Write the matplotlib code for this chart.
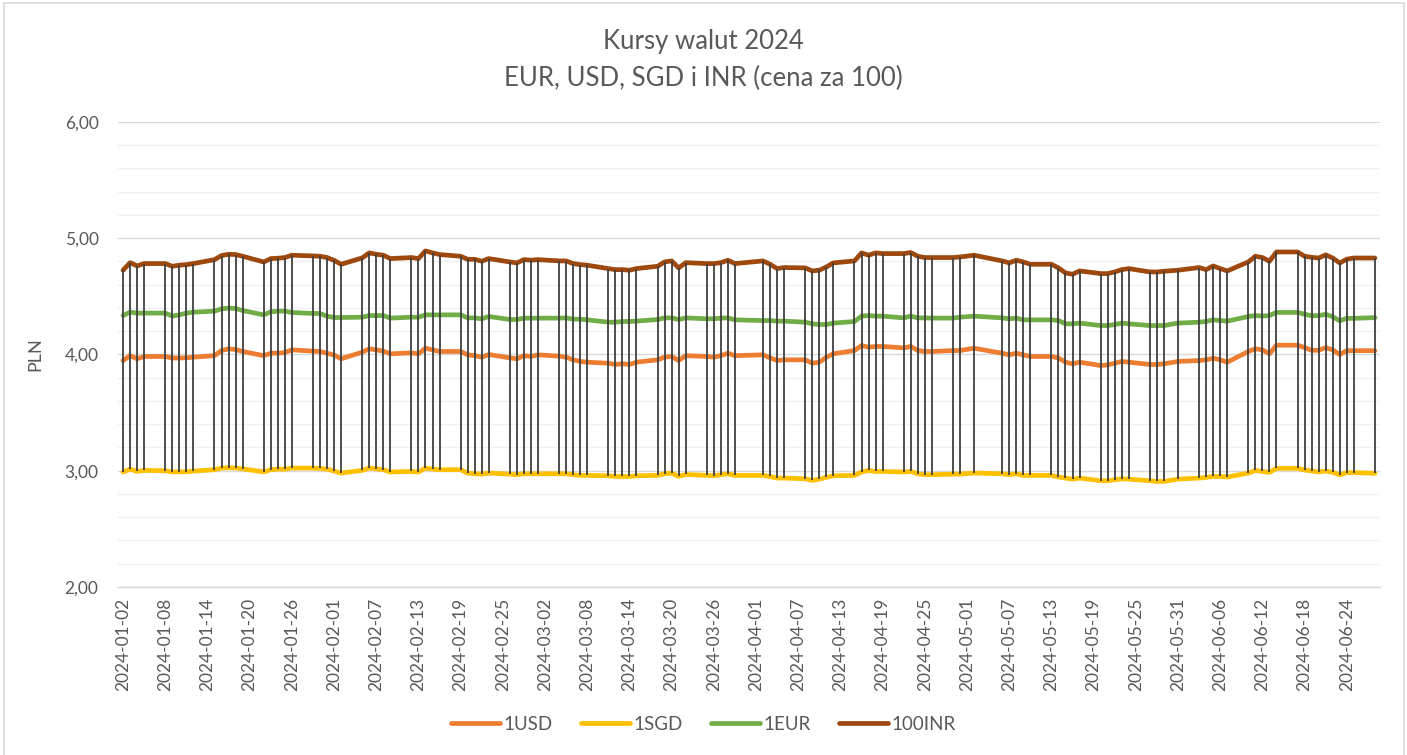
import numpy as np
import pandas as pd
import matplotlib
matplotlib.use("Agg")
import matplotlib.pyplot as plt
import matplotlib.dates as mdates
from matplotlib.ticker import MultipleLocator, FuncFormatter
from matplotlib.lines import Line2D

plt.rcParams['font.family'] = ['Lato', 'DejaVu Sans']

# ---------------- data ----------------
dates = [
    # Jan
    "2024-01-02", "2024-01-03", "2024-01-04", "2024-01-05", "2024-01-08", "2024-01-09", "2024-01-10",
    "2024-01-11", "2024-01-12", "2024-01-15", "2024-01-16", "2024-01-17", "2024-01-18", "2024-01-19",
    "2024-01-22", "2024-01-23", "2024-01-24", "2024-01-25", "2024-01-26", "2024-01-29", "2024-01-30",
    "2024-01-31",
    # Feb
    "2024-02-01", "2024-02-02", "2024-02-05", "2024-02-06", "2024-02-07", "2024-02-08", "2024-02-09",
    "2024-02-12", "2024-02-13", "2024-02-14", "2024-02-15", "2024-02-16", "2024-02-19", "2024-02-20",
    "2024-02-21", "2024-02-22", "2024-02-23", "2024-02-26", "2024-02-27", "2024-02-28", "2024-02-29",
    # Mar
    "2024-03-01", "2024-03-04", "2024-03-05", "2024-03-06", "2024-03-07", "2024-03-08", "2024-03-11",
    "2024-03-12", "2024-03-13", "2024-03-14", "2024-03-15", "2024-03-18", "2024-03-19", "2024-03-20",
    "2024-03-21", "2024-03-22", "2024-03-25", "2024-03-26", "2024-03-27", "2024-03-28", "2024-03-29",
    # Apr
    "2024-04-02", "2024-04-03", "2024-04-04", "2024-04-05", "2024-04-08", "2024-04-09", "2024-04-10",
    "2024-04-11", "2024-04-12", "2024-04-15", "2024-04-16", "2024-04-17", "2024-04-18", "2024-04-19",
    "2024-04-22", "2024-04-23", "2024-04-24", "2024-04-25", "2024-04-26", "2024-04-29", "2024-04-30",
    # May
    "2024-05-02", "2024-05-06", "2024-05-07", "2024-05-08", "2024-05-09", "2024-05-10", "2024-05-13",
    "2024-05-14", "2024-05-15", "2024-05-16", "2024-05-17", "2024-05-20", "2024-05-21", "2024-05-22",
    "2024-05-23", "2024-05-24", "2024-05-27", "2024-05-28", "2024-05-29", "2024-05-31",
    # Jun
    "2024-06-03", "2024-06-04", "2024-06-05", "2024-06-06", "2024-06-07", "2024-06-10", "2024-06-11",
    "2024-06-12", "2024-06-13", "2024-06-14", "2024-06-17", "2024-06-18", "2024-06-19", "2024-06-20",
    "2024-06-21", "2024-06-22", "2024-06-23", "2024-06-24", "2024-06-25", "2024-06-28",
]

usd = [
    3.948, 3.990, 3.963, 3.983, 3.983, 3.970, 3.970, 3.972, 3.977, 3.990, 4.034, 4.049, 4.043, 4.026,
    3.990, 4.011, 4.011, 4.017, 4.040, 4.029, 4.026, 4.011,
    3.995, 3.963, 4.020, 4.049, 4.040, 4.029, 4.006, 4.014, 4.006, 4.054, 4.040, 4.026, 4.026, 3.997,
    3.990, 3.977, 4.000, 3.971, 3.963, 3.990, 3.983,
    3.997, 3.986, 3.977, 3.954, 3.940, 3.934, 3.925, 3.914, 3.920, 3.914, 3.934, 3.954, 3.977, 3.983,
    3.948, 3.990, 3.983, 3.977, 3.990, 4.011, 3.990,
    3.997, 3.971, 3.948, 3.954, 3.954, 3.925, 3.934, 3.977, 4.006, 4.034, 4.077, 4.063, 4.069, 4.069,
    4.057, 4.069, 4.034, 4.026, 4.026, 4.034, 4.034,
    4.054, 4.011, 3.997, 4.011, 3.997, 3.983, 3.983, 3.970, 3.934, 3.920, 3.934, 3.905, 3.911, 3.925,
    3.940, 3.934, 3.914, 3.914, 3.920, 3.940,
    3.948, 3.954, 3.968, 3.954, 3.934, 4.026, 4.049, 4.040, 4.006, 4.080, 4.080, 4.059, 4.036, 4.036,
    4.059, 4.039, 4.000, 4.033, 4.033, 4.033,
]

sgd = [
    2.989, 3.014, 2.994, 3.003, 3.000, 2.990, 2.990, 2.992, 2.997, 3.009, 3.023, 3.026, 3.023, 3.017,
    2.990, 3.009, 3.014, 3.014, 3.023, 3.023, 3.020, 3.014,
    2.997, 2.980, 3.003, 3.023, 3.017, 3.009, 2.989, 2.994, 2.989, 3.023, 3.014, 3.009, 3.009, 2.980,
    2.974, 2.971, 2.980, 2.971, 2.966, 2.974, 2.974,
    2.974, 2.974, 2.974, 2.966, 2.960, 2.960, 2.957, 2.951, 2.951, 2.951, 2.957, 2.960, 2.974, 2.980,
    2.951, 2.968, 2.960, 2.957, 2.966, 2.974, 2.960,
    2.960, 2.951, 2.937, 2.937, 2.931, 2.917, 2.928, 2.943, 2.957, 2.960, 2.989, 3.003, 2.994, 2.994,
    2.989, 2.994, 2.974, 2.966, 2.966, 2.971, 2.971,
    2.980, 2.974, 2.966, 2.974, 2.960, 2.960, 2.960, 2.946, 2.937, 2.928, 2.937, 2.914, 2.914, 2.923,
    2.931, 2.928, 2.914, 2.908, 2.908, 2.928,
    2.937, 2.943, 2.951, 2.951, 2.946, 2.980, 3.003, 2.994, 2.986, 3.021, 3.021, 3.007, 2.998, 2.990,
    2.998, 2.987, 2.964, 2.984, 2.984, 2.978,
]

eur = [
    4.335, 4.364, 4.356, 4.356, 4.356, 4.330, 4.341, 4.356, 4.364, 4.373, 4.393, 4.399, 4.396, 4.378,
    4.341, 4.367, 4.373, 4.373, 4.361, 4.353, 4.353, 4.330,
    4.318, 4.318, 4.321, 4.335, 4.335, 4.335, 4.313, 4.321, 4.321, 4.341, 4.341, 4.341, 4.341, 4.315,
    4.315, 4.307, 4.327, 4.301, 4.301, 4.313, 4.313,
    4.313, 4.313, 4.315, 4.304, 4.304, 4.298, 4.278, 4.278, 4.284, 4.284, 4.287, 4.301, 4.315, 4.315,
    4.301, 4.315, 4.307, 4.307, 4.313, 4.315, 4.298,
    4.292, 4.292, 4.287, 4.287, 4.278, 4.264, 4.258, 4.258, 4.270, 4.284, 4.330, 4.335, 4.330, 4.330,
    4.315, 4.330, 4.315, 4.315, 4.313, 4.313, 4.321,
    4.330, 4.315, 4.307, 4.313, 4.298, 4.298, 4.298, 4.292, 4.264, 4.264, 4.270, 4.249, 4.249, 4.258,
    4.270, 4.264, 4.249, 4.249, 4.249, 4.270,
    4.278, 4.284, 4.298, 4.292, 4.287, 4.327, 4.335, 4.330, 4.335, 4.362, 4.362, 4.346, 4.334, 4.334,
    4.346, 4.325, 4.290, 4.311, 4.311, 4.317,
]

inr100 = [
    4.725, 4.790, 4.762, 4.782, 4.782, 4.759, 4.768, 4.773, 4.782, 4.816, 4.851, 4.862, 4.860, 4.845,
    4.796, 4.825, 4.828, 4.834, 4.854, 4.848, 4.845, 4.834,
    4.810, 4.776, 4.831, 4.874, 4.862, 4.854, 4.825, 4.834, 4.825, 4.891, 4.874, 4.860, 4.845, 4.819,
    4.819, 4.802, 4.825, 4.796, 4.788, 4.816, 4.811,
    4.816, 4.805, 4.805, 4.782, 4.773, 4.768, 4.739, 4.730, 4.730, 4.725, 4.739, 4.759, 4.796, 4.805,
    4.745, 4.790, 4.782, 4.782, 4.790, 4.811, 4.782,
    4.805, 4.776, 4.739, 4.748, 4.745, 4.719, 4.725, 4.753, 4.788, 4.805, 4.874, 4.854, 4.874, 4.868,
    4.868, 4.877, 4.845, 4.834, 4.834, 4.834, 4.839,
    4.854, 4.805, 4.788, 4.811, 4.796, 4.776, 4.776, 4.745, 4.702, 4.690, 4.719, 4.696, 4.696, 4.710,
    4.730, 4.739, 4.710, 4.710, 4.716, 4.725,
    4.748, 4.730, 4.762, 4.739, 4.719, 4.796, 4.845, 4.834, 4.802, 4.882, 4.882, 4.845, 4.836, 4.830,
    4.857, 4.830, 4.787, 4.820, 4.830, 4.830,
]

series_names = ["1USD", "1SGD", "1EUR", "100INR"]
series_colors = ["#ED7D31", "#FFC000", "#70AD47", "#9E480E"]

tick_start = "2024-01-02"
tick_end = "2024-06-28"
title_lines = ["Kursy walut 2024", "EUR, USD, SGD i INR (cena za 100)"]
y_label = "PLN"

# ---------------- plot ----------------
W, H = 1407, 755
fig = plt.figure(figsize=(W / 100, H / 100), dpi=100)
fig.patch.set_facecolor("white")

left, right, top, bottom = 118, 1380, 122, 587
ax = fig.add_axes([left / W, 1 - bottom / H, (right - left) / W, (bottom - top) / H])

x = mdates.date2num(pd.to_datetime(dates).to_pydatetime())
all_vals = np.array([usd, sgd, eur, inr100])

for vals, name, col in zip([usd, sgd, eur, inr100], series_names, series_colors):
    ax.plot(x, vals, color=col, lw=3.4, solid_capstyle="round", solid_joinstyle="round",
            zorder=3, label=name)

# high-low lines
ax.vlines(x, all_vals.min(axis=0), all_vals.max(axis=0), color="#404040", lw=1.3, zorder=4)

# axes
x0 = mdates.date2num(pd.Timestamp(tick_start).to_pydatetime())
x1 = mdates.date2num(pd.Timestamp(tick_end).to_pydatetime())
ax.set_xlim(x0 - 0.72, x1 + 0.72)
ax.set_ylim(2, 6)

ticks = pd.date_range(tick_start, tick_end, freq="6D")
ax.set_xticks(mdates.date2num(ticks.to_pydatetime()))
ax.set_xticklabels([t.strftime("%Y-%m-%d") for t in ticks], rotation=90)

ax.yaxis.set_major_locator(MultipleLocator(1))
ax.yaxis.set_minor_locator(MultipleLocator(0.2))
ax.yaxis.set_major_formatter(FuncFormatter(lambda v, p: f"{v:.2f}".replace(".", ",")))

ax.grid(which="major", axis="y", color="#D9D9D9", lw=1.0, zorder=0)
ax.grid(which="minor", axis="y", color="#F0F0F0", lw=1.0, zorder=0)
ax.set_axisbelow(True)

for s in ["left", "right", "top"]:
    ax.spines[s].set_visible(False)
ax.spines["bottom"].set_color("#D9D9D9")
ax.spines["bottom"].set_linewidth(1.0)

ax.tick_params(axis="both", which="both", length=0, colors="#595959", labelsize=12.5)
ax.tick_params(axis="x", pad=8)
ax.tick_params(axis="y", pad=14)

ax.set_ylabel(y_label, color="#595959", fontsize=13, labelpad=15)

fig.text(0.5, 1 - 42 / H, title_lines[0], ha="center", va="center", fontsize=18.5, color="#595959")
fig.text(0.5, 1 - 78 / H, title_lines[1], ha="center", va="center", fontsize=18.5, color="#595959")

handles = [Line2D([0], [0], color=c, lw=3.4, solid_capstyle="round") for c in series_colors]
fig.legend(handles, series_names, loc="center", bbox_to_anchor=(0.5, 1 - 724 / H), ncol=4,
           frameon=False, fontsize=13.5, labelcolor="#595959", handlelength=2.6,
           handletextpad=0.2, columnspacing=1.5)

# outer chart border
border = plt.Rectangle((3.5 / W, -0.01), (W - 7) / W, 1 - 3.5 / H + 0.01, transform=fig.transFigure,
                       fill=False, edgecolor="#D9D9D9", lw=1.2)
fig.add_artist(border)

fig.savefig("out.png", dpi=100, facecolor="white")
